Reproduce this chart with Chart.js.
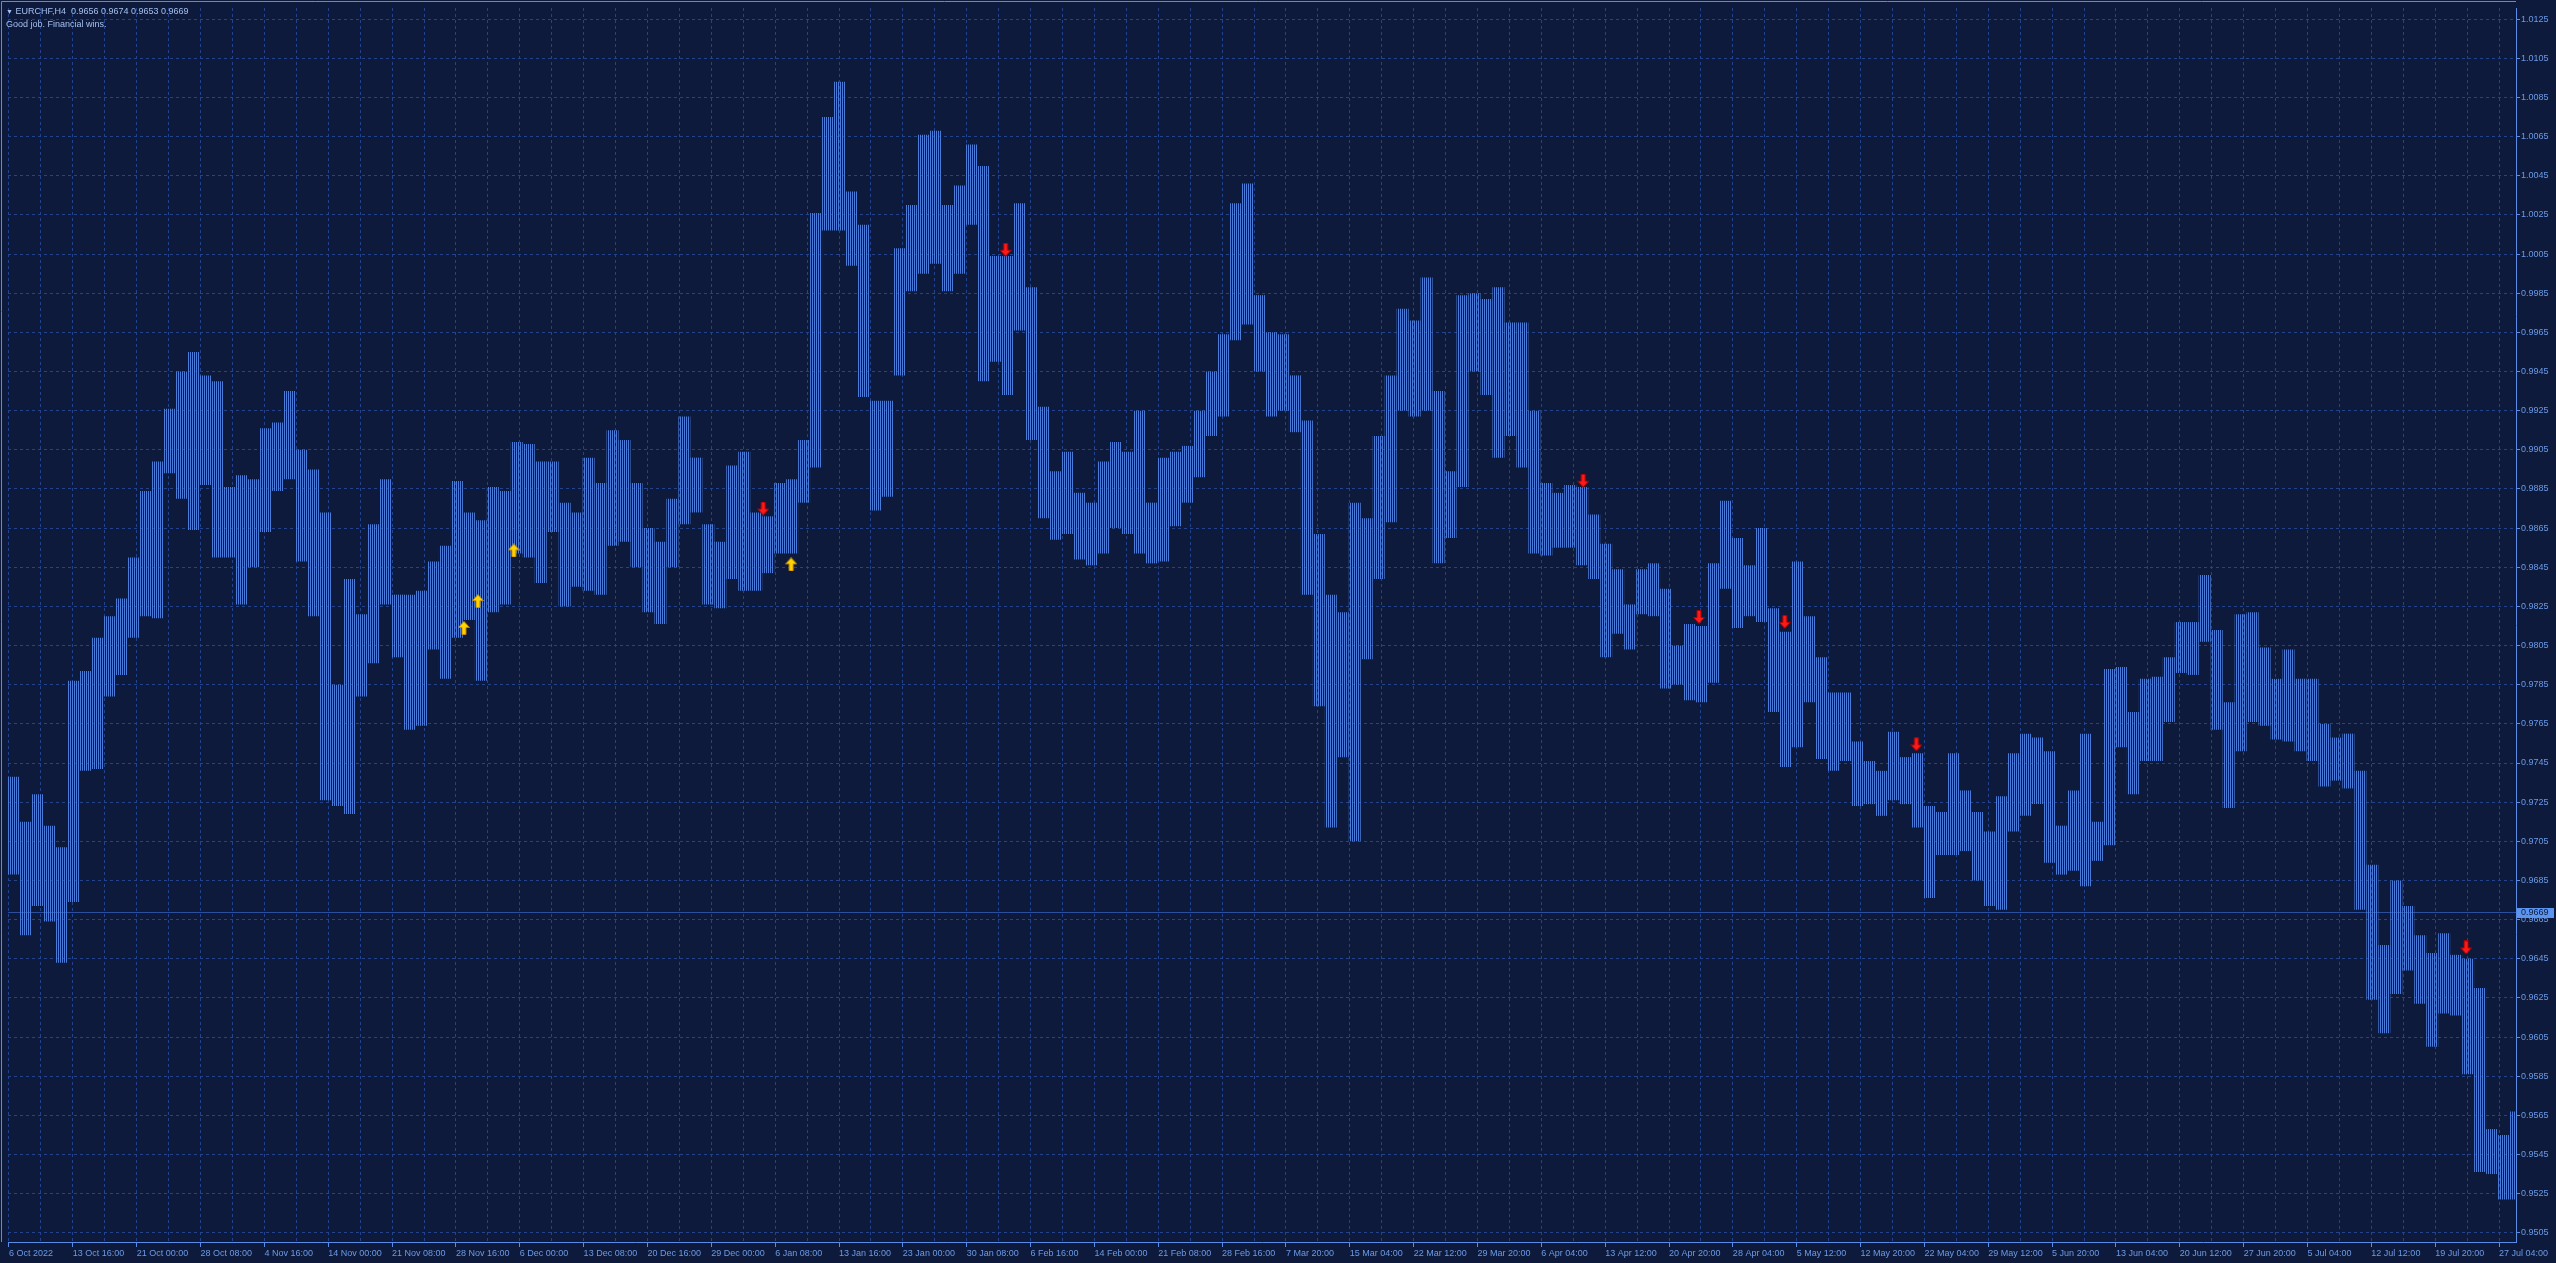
<!DOCTYPE html>
<html>
<head>
<meta charset="utf-8">
<title>EURCHF,H4</title>
<script src="https://cdn.jsdelivr.net/npm/chart.js@4.4.1/dist/chart.umd.min.js"></script>
<style>
  html, body { margin: 0; padding: 0; background: #0e1a3b; overflow: hidden; }
  #wrap { position: relative; width: 2556px; height: 1263px; }
  #chart { display: block; }
  .hdr { position: absolute; left: 6px; font: 9px "Liberation Sans", Arial, sans-serif; color: #a4c0ee; white-space: pre; }
  .tri { font-size: 7px; }
</style>
</head>
<body>
<div id="wrap">
  <canvas id="chart" width="2556" height="1263"></canvas>
  <div class="hdr" style="top:6px"><span class="tri">▼</span> EURCHF,H4  0.9656 0.9674 0.9653 0.9669</div>
  <div class="hdr" style="top:19px">Good job. Financial wins.</div>
</div>
<script>
// H4 bars, 6 bars (one trading day) per group: range high / low
const groupHigh = [
  0.9738,0.9715,0.9729,0.9713,0.9702,0.9787,0.9792,0.9809,0.9820,0.9829,
  0.9850,0.9884,0.9899,0.9926,0.9945,0.9955,0.9943,0.9940,0.9886,0.9892,
  0.9890,0.9916,0.9919,0.9935,0.9905,0.9895,0.9873,0.9785,0.9839,0.9821,
  0.9867,0.9890,0.9831,0.9831,0.9833,0.9848,0.9856,0.9889,0.9873,0.9869,
  0.9886,0.9884,0.9909,0.9908,0.9899,0.9899,0.9878,0.9873,0.9901,0.9888,
  0.9915,0.9910,0.9888,0.9865,0.9858,0.9880,0.9922,0.9901,0.9867,0.9858,
  0.9897,0.9904,0.9873,0.9871,0.9888,0.9890,0.9910,1.0026,1.0075,1.0093,
  1.0037,1.0020,0.9930,0.9930,1.0008,1.0030,1.0066,1.0068,1.0030,1.0040,
  1.0061,1.0050,1.0004,1.0004,1.0031,0.9988,0.9927,0.9894,0.9904,0.9883,
  0.9878,0.9899,0.9909,0.9904,0.9925,0.9878,0.9901,0.9904,0.9907,0.9925,
  0.9945,0.9964,1.0031,1.0041,0.9984,0.9965,0.9964,0.9943,0.9920,0.9862,
  0.9831,0.9822,0.9878,0.9870,0.9912,0.9943,0.9977,0.9971,0.9993,0.9935,
  0.9894,0.9984,0.9985,0.9982,0.9988,0.9970,0.9970,0.9925,0.9888,0.9883,
  0.9887,0.9886,0.9872,0.9857,0.9844,0.9826,0.9844,0.9847,0.9834,0.9805,
  0.9816,0.9815,0.9847,0.9879,0.9860,0.9846,0.9865,0.9824,0.9812,0.9848,
  0.9820,0.9799,0.9781,0.9781,0.9756,0.9746,0.9741,0.9761,0.9748,0.9750,
  0.9723,0.9720,0.9750,0.9731,0.9720,0.9710,0.9728,0.9750,0.9760,0.9758,
  0.9751,0.9713,0.9731,0.9760,0.9715,0.9793,0.9794,0.9771,0.9788,0.9789,
  0.9799,0.9817,0.9817,0.9841,0.9813,0.9776,0.9821,0.9822,0.9804,0.9788,
  0.9803,0.9788,0.9788,0.9765,0.9758,0.9760,0.9741,0.9693,0.9652,0.9685,
  0.9672,0.9657,0.9648,0.9658,0.9647,0.9645,0.9630,0.9558,0.9555,0.9567
];
const groupLow = [
  0.9688,0.9657,0.9672,0.9664,0.9643,0.9674,0.9741,0.9742,0.9779,0.9790,
  0.9809,0.9820,0.9819,0.9893,0.9880,0.9864,0.9887,0.9850,0.9850,0.9826,
  0.9845,0.9863,0.9884,0.9890,0.9848,0.9820,0.9726,0.9723,0.9719,0.9779,
  0.9796,0.9826,0.9799,0.9762,0.9764,0.9803,0.9788,0.9809,0.9818,0.9787,
  0.9822,0.9826,0.9852,0.9850,0.9837,0.9863,0.9825,0.9835,0.9833,0.9831,
  0.9856,0.9858,0.9845,0.9822,0.9816,0.9845,0.9867,0.9873,0.9826,0.9824,
  0.9839,0.9833,0.9833,0.9842,0.9852,0.9852,0.9878,0.9896,1.0017,1.0017,
  0.9999,0.9932,0.9874,0.9881,0.9943,0.9986,0.9995,1.0000,0.9986,0.9995,
  1.0020,0.9940,0.9950,0.9933,0.9966,0.9910,0.9870,0.9859,0.9862,0.9849,
  0.9846,0.9852,0.9865,0.9862,0.9852,0.9847,0.9848,0.9866,0.9878,0.9891,
  0.9912,0.9922,0.9961,0.9969,0.9945,0.9922,0.9925,0.9914,0.9831,0.9774,
  0.9712,0.9748,0.9705,0.9798,0.9839,0.9868,0.9925,0.9922,0.9925,0.9847,
  0.9860,0.9886,0.9945,0.9933,0.9901,0.9912,0.9896,0.9852,0.9851,0.9855,
  0.9855,0.9846,0.9839,0.9799,0.9811,0.9803,0.9821,0.9820,0.9783,0.9785,
  0.9777,0.9776,0.9786,0.9834,0.9814,0.9820,0.9817,0.9771,0.9743,0.9753,
  0.9776,0.9747,0.9741,0.9746,0.9723,0.9724,0.9718,0.9726,0.9724,0.9712,
  0.9676,0.9698,0.9698,0.9700,0.9685,0.9672,0.9670,0.9710,0.9718,0.9724,
  0.9694,0.9688,0.9690,0.9682,0.9695,0.9703,0.9753,0.9729,0.9746,0.9746,
  0.9766,0.9791,0.9790,0.9807,0.9762,0.9722,0.9751,0.9766,0.9764,0.9757,
  0.9756,0.9751,0.9746,0.9733,0.9736,0.9732,0.9670,0.9624,0.9607,0.9627,
  0.9639,0.9622,0.9600,0.9617,0.9616,0.9586,0.9536,0.9535,0.9522,0.9522
];

// signal arrows: position in H4 bars from the left edge, price at the arrow
const upArrowBar = [228.5, 235.5, 253.5, 392.5];
const upArrowPrice = [0.98140, 0.98277, 0.98536, 0.98465];
const downArrowBar = [378.5, 500, 789.5, 847.5, 890.5, 956.5, 1232];
const downArrowPrice = [0.98750, 1.00072, 0.98892, 0.98196, 0.98171, 0.97545, 0.96508];

const lastClose = 0.9669;

const timeLabels = [
  '6 Oct 2022','13 Oct 16:00','21 Oct 00:00','28 Oct 08:00','4 Nov 16:00','14 Nov 00:00',
  '21 Nov 08:00','28 Nov 16:00','6 Dec 00:00','13 Dec 08:00','20 Dec 16:00','29 Dec 00:00',
  '6 Jan 08:00','13 Jan 16:00','23 Jan 00:00','30 Jan 08:00','6 Feb 16:00','14 Feb 00:00',
  '21 Feb 08:00','28 Feb 16:00','7 Mar 20:00','15 Mar 04:00','22 Mar 12:00','29 Mar 20:00',
  '6 Apr 04:00','13 Apr 12:00','20 Apr 20:00','28 Apr 04:00','5 May 12:00','12 May 20:00',
  '22 May 04:00','29 May 12:00','5 Jun 20:00','13 Jun 04:00','20 Jun 12:00','27 Jun 20:00',
  '5 Jul 04:00','12 Jul 12:00','19 Jul 20:00','27 Jul 04:00'
];
const priceTicks = [
  0.9505,0.9525,0.9545,0.9565,0.9585,0.9605,0.9625,0.9645,0.9665,0.9685,0.9705,
  0.9725,0.9745,0.9765,0.9785,0.9805,0.9825,0.9845,0.9865,0.9885,0.9905,0.9925,
  0.9945,0.9965,0.9985,1.0005,1.0025,1.0045,1.0065,1.0085,1.0105,1.0125
];

const BARS_PER_GROUP = 6;
const BARS_PER_LABEL = 32;
const TOTAL_BARS = 1257;

const BG = '#0e1a3b';
const BAR_COLOR = '#4a7bd9';
const GRID = '#23448c';
const AXIS = '#5a8ce6';
const TICK_TEXT = '#6b9be8';
const BID_LINE = '#2b4f9e';
const TAG_BG = '#5c95ef';
const FONT = '"Liberation Sans", Arial, sans-serif';

// one pixel line every two pixels, like the thin bar lines of the terminal
function stripePattern(ctx, color) {
  const c = document.createElement('canvas');
  c.width = 2; c.height = 1;
  const g = c.getContext('2d');
  g.fillStyle = color;
  g.fillRect(0, 0, 1, 1);
  return ctx.createPattern(c, 'repeat');
}

function arrowIcon(up, fill, edge) {
  const c = document.createElement('canvas');
  c.width = 12; c.height = 14;
  const g = c.getContext('2d');
  if (!up) { g.translate(0, 14); g.scale(1, -1); }
  g.beginPath();
  g.moveTo(6, 0.5);
  g.lineTo(11.5, 6.5);
  g.lineTo(8, 6.5);
  g.lineTo(8, 13.5);
  g.lineTo(4, 13.5);
  g.lineTo(4, 6.5);
  g.lineTo(0.5, 6.5);
  g.closePath();
  g.fillStyle = fill;
  g.fill();
  g.strokeStyle = edge;
  g.lineWidth = 1;
  g.stroke();
  return c;
}

const ctx = document.getElementById('chart').getContext('2d');

const bars = groupHigh.map((h, i) => ({ x: i * BARS_PER_GROUP + BARS_PER_GROUP / 2, y: [groupLow[i], h] }));
const ups = upArrowBar.map((x, i) => ({ x: x, y: upArrowPrice[i] }));
const downs = downArrowBar.map((x, i) => ({ x: x, y: downArrowPrice[i] }));

const xTickValues = [];
for (let k = 0; k < timeLabels.length * 2 - 1; k++) xTickValues.push(0.5 + k * BARS_PER_LABEL / 2);

const terminalPlugin = {
  id: 'terminal',
  beforeDraw(chart) {
    const c = chart.ctx;
    c.save();
    c.fillStyle = BG;
    c.fillRect(0, 0, chart.width, chart.height);
    c.restore();
  },
  beforeDatasetsDraw(chart) {
    const c = chart.ctx, a = chart.chartArea;
    const py = Math.round(chart.scales.y.getPixelForValue(lastClose)) + 0.5;
    c.save();
    c.strokeStyle = BID_LINE;
    c.lineWidth = 1;
    c.beginPath();
    c.moveTo(a.left, py);
    c.lineTo(a.right, py);
    c.stroke();
    c.restore();
  },
  afterDraw(chart) {
    const c = chart.ctx, a = chart.chartArea;
    c.save();
    c.strokeStyle = AXIS;
    c.lineWidth = 1;
    c.beginPath();
    c.moveTo(1.5, a.bottom);
    c.lineTo(1.5, 1.5);
    c.lineTo(a.right, 1.5);
    c.stroke();
    // price tag of the last quote
    const py = Math.round(chart.scales.y.getPixelForValue(lastClose));
    c.fillStyle = TAG_BG;
    c.fillRect(a.right + 1, py - 4, 37, 10);
    c.fillStyle = BG;
    c.font = '9px ' + FONT;
    c.textBaseline = 'middle';
    c.fillText(lastClose.toFixed(4), a.right + 5, py + 1);
    c.restore();
  }
};

new Chart(ctx, {
  type: 'bar',
  data: {
    datasets: [
      {
        type: 'scatter',
        data: ups,
        pointStyle: arrowIcon(true, '#ffd400', '#c98a00'),
        pointRadius: 7,
        order: 0
      },
      {
        type: 'scatter',
        data: downs,
        pointStyle: arrowIcon(false, '#ff1a1a', '#b00000'),
        pointRadius: 7,
        order: 0
      },
      {
        type: 'bar',
        data: bars,
        backgroundColor: stripePattern(ctx, BAR_COLOR),
        borderWidth: 0,
        inflateAmount: 0,
        barPercentage: 1,
        categoryPercentage: 1,
        order: 1
      }
    ]
  },
  options: {
    responsive: false,
    devicePixelRatio: 1,
    animation: false,
    events: [],
    layout: { padding: { left: 2, top: 2, right: 0, bottom: 0 } },
    plugins: { legend: { display: false }, tooltip: { enabled: false } },
    scales: {
      x: {
        type: 'linear',
        min: 0,
        max: TOTAL_BARS,
        offset: false,
        afterBuildTicks: s => { s.ticks = xTickValues.map(v => ({ value: v })); },
        afterFit: s => { s.height = 21; s.paddingLeft = 0; s.paddingRight = 0; },
        grid: {
          offset: false,
          color: GRID,
          lineWidth: 1,
          tickLength: 5,
          tickColor: c => (c.index % 2 ? 'rgba(0,0,0,0)' : AXIS)
        },
        border: { color: AXIS, width: 1, dash: [3, 3] },
        ticks: {
          autoSkip: false,
          maxRotation: 0,
          minRotation: 0,
          align: 'start',
          padding: 1,
          color: TICK_TEXT,
          font: { family: FONT, size: 9 },
          callback: (v, i) => (i % 2 ? '' : timeLabels[i / 2])
        }
      },
      y: {
        type: 'linear',
        position: 'right',
        min: 0.95003,
        max: 1.01307,
        afterBuildTicks: s => { s.ticks = priceTicks.map(v => ({ value: v })); },
        afterFit: s => { s.width = 40; s.paddingTop = 0; s.paddingBottom = 0; },
        grid: { color: GRID, lineWidth: 1, tickLength: 4, tickColor: AXIS },
        border: { color: AXIS, width: 1, dash: [3, 3] },
        ticks: {
          padding: 1,
          color: TICK_TEXT,
          font: { family: FONT, size: 9 },
          callback: v => v.toFixed(4)
        }
      }
    }
  },
  plugins: [terminalPlugin]
});
</script>
</body>
</html>
